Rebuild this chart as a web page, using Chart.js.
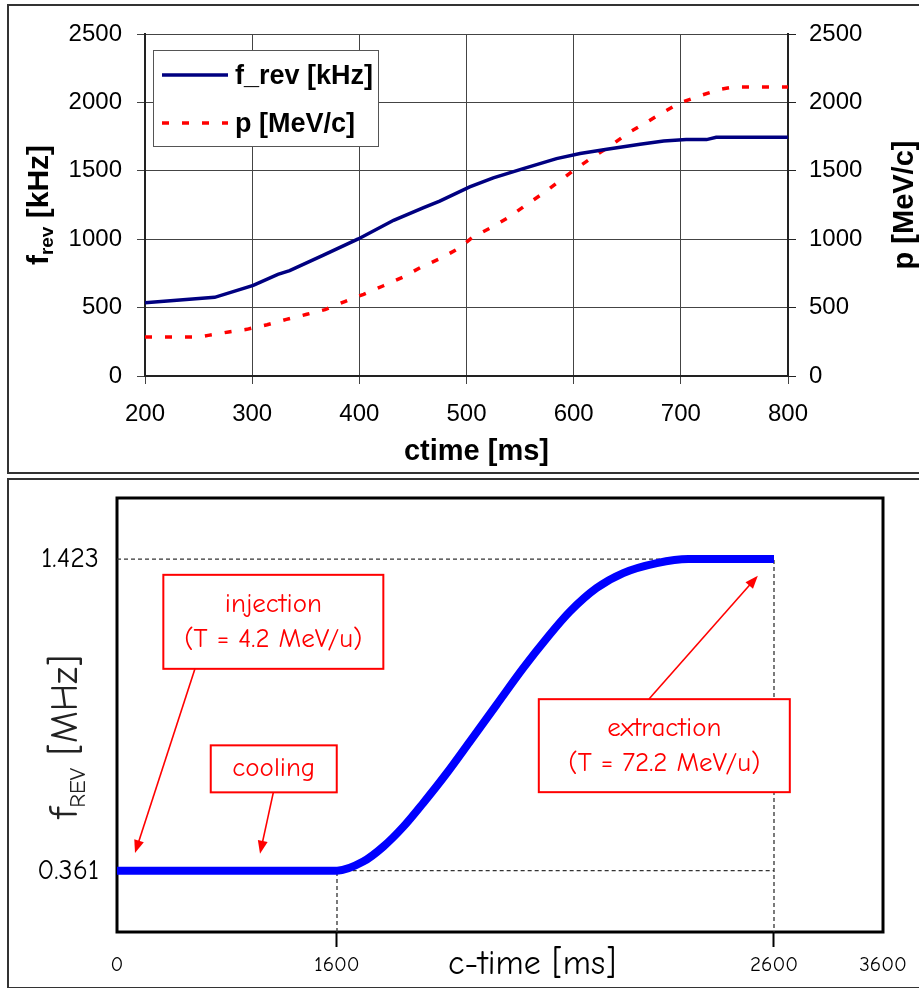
<!DOCTYPE html>
<html>
<head>
<meta charset="utf-8">
<script src="https://cdn.jsdelivr.net/npm/chart.js@4.4.1/dist/chart.umd.min.js"></script>
<style>
  html, body { margin: 0; padding: 0; background: #fff; overflow: hidden; width: 919px; height: 988px; }
  .panel { position: absolute; border: 2px solid #333; box-sizing: border-box; }
  canvas { position: absolute; left: 0; }
</style>
</head>
<body>
<div class="panel" style="left:7px;top:4px;width:930px;height:470px"></div>
<div class="panel" style="left:7px;top:478px;width:930px;height:511px"></div>
<canvas id="topChart" width="919" height="476" style="top:0"></canvas>
<canvas id="bottomChart" width="919" height="510" style="top:478px"></canvas>
<script>
// ---- top chart: measured ramp ----
const fRevTime = [200, 265, 301, 324, 335, 366, 399, 432, 460, 475, 503, 525, 553, 584, 606, 631, 662, 684, 705, 724, 733, 800];
const fRevKHz  = [535, 575, 663, 743, 770, 882, 1002, 1138, 1231, 1279, 1382, 1448, 1516, 1589, 1626, 1657, 1694, 1718, 1728, 1728, 1745, 1745];
const pTime = [200, 250, 259, 278, 295, 314, 332, 351, 368, 387, 404, 422, 441, 458, 477, 493, 506, 524, 539, 556, 572, 587, 601, 618, 635, 650, 667, 683, 699, 719, 737, 750, 800];
const pMeV  = [285, 285, 297, 322, 341, 375, 414, 451, 485, 546, 597, 658, 724, 797, 864, 935, 1016, 1089, 1158, 1253, 1338, 1426, 1509, 1601, 1686, 1772, 1850, 1925, 1996, 2052, 2096, 2113, 2113];

// ---- bottom chart: schematic cycle ----
const cTime   = [0, 1600, 1660, 1706, 1752, 1797, 1851, 1904, 1965, 2026, 2080, 2133, 2194, 2255, 2332, 2404, 2600];
const fRevMHz = [0.361, 0.361, 0.392, 0.443, 0.511, 0.591, 0.693, 0.801, 0.926, 1.051, 1.153, 1.244, 1.324, 1.375, 1.409, 1.423, 1.423];
const cTimeTicks = [0, 1600, 2600, 3600];
const fRevTicks = [0.361, 1.423];
const fMin = 0.152, fMax = 1.631;

const noteText = [
  ['injection', '(T = 4.2 MeV/u)'],
  ['cooling'],
  ['extraction', '(T = 72.2 MeV/u)']
];

const arial = '"Liberation Sans", Arial, sans-serif';
const comic = '"Comic Sans MS", "Comic Neue", Lato, sans-serif';

function pts(xs, ys) { return xs.map((x, i) => ({ x: x, y: ys[i] })); }

function drawRich(ctx, parts, cx, cy, rot) {
  ctx.save();
  ctx.translate(cx, cy);
  ctx.rotate(rot);
  let total = 0;
  parts.forEach(p => { ctx.font = p.font; p.w = ctx.measureText(p.text).width; total += p.w; });
  let x = -total / 2;
  ctx.textAlign = 'left';
  ctx.textBaseline = 'alphabetic';
  parts.forEach(p => { ctx.font = p.font; ctx.fillStyle = p.color || '#000'; ctx.fillText(p.text, x, p.dy); x += p.w; });
  ctx.restore();
}

// legend box + axis titles for the top chart
const topDecor = {
  id: 'topDecor',
  afterDraw(chart) {
    const { ctx, chartArea: a } = chart;
    ctx.save();
    const lx = a.left + 8, ly = a.top + 16;
    ctx.fillStyle = '#fff';
    ctx.fillRect(lx, ly, 225, 96);
    ctx.strokeStyle = '#555';
    ctx.lineWidth = 1;
    ctx.strokeRect(lx + 0.5, ly + 0.5, 225, 96);
    chart.data.datasets.forEach((ds, i) => {
      const y = ly + 25 + i * 48;
      ctx.beginPath();
      ctx.setLineDash(ds.borderDash || []);
      ctx.strokeStyle = ds.borderColor;
      ctx.lineWidth = ds.borderWidth;
      ctx.moveTo(lx + 9, y);
      ctx.lineTo(lx + 75, y);
      ctx.stroke();
      ctx.setLineDash([]);
      ctx.fillStyle = '#000';
      ctx.font = 'bold 27px ' + arial;
      ctx.textAlign = 'left';
      ctx.textBaseline = 'middle';
      ctx.fillText(ds.label, lx + 82, y + 2);
    });
    const midY = (a.top + a.bottom) / 2;
    drawRich(ctx, [
      { text: 'f', font: 'bold 30px ' + arial, dy: 10 },
      { text: 'rev', font: 'bold 19px ' + arial, dy: 15 },
      { text: ' [kHz]', font: 'bold 30px ' + arial, dy: 10 }
    ], 38, midY, -Math.PI / 2);
    drawRich(ctx, [
      { text: 'p [MeV/c]', font: 'bold 29px ' + arial, dy: 10 }
    ], 903, midY, -Math.PI / 2);
    drawRich(ctx, [
      { text: 'ctime [ms]', font: 'bold 29px ' + arial, dy: 10 }
    ], (a.left + a.right) / 2 + 10, a.bottom + 74, 0);
    ctx.restore();
  }
};

const plainNum = v => String(v);

new Chart(document.getElementById('topChart'), {
  type: 'line',
  data: {
    datasets: [
      { label: 'f_rev [kHz]', data: pts(fRevTime, fRevKHz), yAxisID: 'y',
        borderColor: '#000080', borderWidth: 3.5, pointRadius: 0 },
      { label: 'p [MeV/c]', data: pts(pTime, pMeV), yAxisID: 'y2',
        borderColor: '#ff0000', borderWidth: 3.5, borderDash: [7, 13], pointRadius: 0 }
    ]
  },
  options: {
    responsive: false,
    animation: false,
    devicePixelRatio: 1,
    layout: { padding: { top: 34, left: 0, right: 0, bottom: 0 } },
    plugins: { legend: { display: false }, tooltip: { enabled: false } },
    scales: {
      x: {
        type: 'linear', min: 200, max: 800,
        ticks: { stepSize: 100, color: '#000', font: { family: arial, size: 24 }, padding: 16, maxRotation: 0, callback: plainNum },
        grid: { color: '#444', lineWidth: 1, tickLength: 8 },
        border: { color: '#222', width: 2 },
        afterFit: s => { s.height = 100; }
      },
      y: {
        position: 'left', min: 0, max: 2500,
        ticks: { stepSize: 500, color: '#000', font: { family: arial, size: 24 }, padding: 15, callback: plainNum },
        grid: { color: '#444', lineWidth: 1, tickLength: 8 },
        border: { color: '#222', width: 2 },
        afterFit: s => { s.width = 145; s.paddingTop = 0; }
      },
      y2: {
        position: 'right', min: 0, max: 2500,
        ticks: { stepSize: 500, color: '#000', font: { family: arial, size: 24 }, padding: 13, callback: plainNum },
        grid: { drawOnChartArea: false, color: '#222', tickLength: 8 },
        border: { color: '#222', width: 2 },
        afterFit: s => { s.width = 131; s.paddingTop = 0; }
      }
    }
  },
  plugins: [topDecor]
});

// x axis of the schematic is piecewise linear between the marked times
const xBreakFrac = [0, 0.2872, 0.8577, 1];
class SegmentScale extends Chart.LinearScale {
  getPixelForValue(value) {
    const b = cTimeTicks;
    let dec = value <= b[0] ? 0 : 1;
    for (let i = 0; i < b.length - 1; i++) {
      if (value >= b[i] && value <= b[i + 1]) {
        dec = xBreakFrac[i] + (value - b[i]) / (b[i + 1] - b[i]) * (xBreakFrac[i + 1] - xBreakFrac[i]);
        break;
      }
    }
    return this.getPixelForDecimal(dec);
  }
  getValueForPixel(pixel) {
    const dec = this.getDecimalForPixel(pixel);
    const b = cTimeTicks;
    for (let i = 0; i < b.length - 1; i++) {
      if (dec <= xBreakFrac[i + 1]) {
        return b[i] + (dec - xBreakFrac[i]) / (xBreakFrac[i + 1] - xBreakFrac[i]) * (b[i + 1] - b[i]);
      }
    }
    return b[b.length - 1];
  }
}
SegmentScale.id = 'segment';
SegmentScale.defaults = Chart.LinearScale.defaults;
Chart.register(SegmentScale);

// annotation placement in data units (centre, box size in px, arrow tail -> tip)
const noteLayout = [
  { at: [1137, 1.209], w: 220, h: 94, tail: [567, 1.049], tip: [131, 0.421] },
  { at: [1140, 0.708], w: 126, h: 47, tail: [1137, 0.628], tip: [1040, 0.419] },
  { at: [2349, 0.787], w: 251, h: 93, tail: [2314, 0.946], tip: [2563, 1.366] }
];

const bottomDecor = {
  id: 'bottomDecor',
  beforeDatasetsDraw(chart) {
    const { ctx, chartArea: a } = chart;
    ctx.save();
    ctx.strokeStyle = '#000';
    ctx.lineWidth = 3;
    ctx.strokeRect(a.left, a.top, a.right - a.left, a.bottom - a.top);
    ctx.restore();
  },
  afterDatasetsDraw(chart) {
    const { ctx } = chart;
    const xs = chart.scales.x, ys = chart.scales.y;
    ctx.save();
    noteLayout.forEach((n, i) => {
      const cx = xs.getPixelForValue(n.at[0]), cy = ys.getPixelForValue(n.at[1]);
      // arrow
      const x0 = xs.getPixelForValue(n.tail[0]), y0 = ys.getPixelForValue(n.tail[1]);
      const x1 = xs.getPixelForValue(n.tip[0]), y1 = ys.getPixelForValue(n.tip[1]);
      const ang = Math.atan2(y1 - y0, x1 - x0);
      ctx.strokeStyle = '#ff0000';
      ctx.fillStyle = '#ff0000';
      ctx.lineWidth = 1.6;
      ctx.beginPath();
      ctx.moveTo(x0, y0);
      ctx.lineTo(x1 - 10 * Math.cos(ang), y1 - 10 * Math.sin(ang));
      ctx.stroke();
      ctx.beginPath();
      ctx.moveTo(x1, y1);
      ctx.lineTo(x1 - 13 * Math.cos(ang) + 5 * Math.sin(ang), y1 - 13 * Math.sin(ang) - 5 * Math.cos(ang));
      ctx.lineTo(x1 - 13 * Math.cos(ang) - 5 * Math.sin(ang), y1 - 13 * Math.sin(ang) + 5 * Math.cos(ang));
      ctx.closePath();
      ctx.fill();
      // box
      ctx.fillStyle = '#fff';
      ctx.fillRect(cx - n.w / 2, cy - n.h / 2, n.w, n.h);
      ctx.lineWidth = 2;
      ctx.strokeRect(cx - n.w / 2, cy - n.h / 2, n.w, n.h);
      ctx.fillStyle = '#ff0000';
      ctx.font = '27px ' + comic;
      ctx.textAlign = 'center';
      ctx.textBaseline = 'middle';
      const lines = noteText[i];
      lines.forEach((t, k) => {
        ctx.fillText(t, cx, cy + (k - (lines.length - 1) / 2) * 35);
      });
    });
    ctx.restore();
  },
  afterDraw(chart) {
    const { ctx, chartArea: a } = chart;
    const midY = (a.top + a.bottom) / 2;
    drawRich(ctx, [
      { text: 'f', font: '40px ' + comic, dy: 13, color: '#222' },
      { text: 'REV', font: '23px ' + comic, dy: 21, color: '#222' },
      { text: ' [MHz]', font: '38px ' + comic, dy: 13, color: '#222' }
    ], 64, midY + 22, -Math.PI / 2);
    drawRich(ctx, [
      { text: 'c-time [ms]', font: '34px ' + comic, dy: 12, color: '#000' }
    ], 532, a.bottom + 30, 0);
  }
};

new Chart(document.getElementById('bottomChart'), {
  type: 'line',
  data: {
    datasets: [
      { label: 'f_REV', data: pts(cTime, fRevMHz), borderColor: '#0000ff', borderWidth: 8,
        pointRadius: 0, cubicInterpolationMode: 'monotone' },
      { label: 'top guide', data: [{ x: 0, y: fRevTicks[1] }, { x: cTimeTicks[2], y: fRevTicks[1] }, { x: cTimeTicks[2], y: fMin }],
        borderColor: '#333', borderWidth: 1.3, borderDash: [4, 3], pointRadius: 0 },
      { label: 'bottom guide', data: [{ x: cTimeTicks[1], y: fMin }, { x: cTimeTicks[1], y: fRevTicks[0] }, { x: cTimeTicks[2], y: fRevTicks[0] }],
        borderColor: '#333', borderWidth: 1.3, borderDash: [4, 3], pointRadius: 0 }
    ]
  },
  options: {
    responsive: false,
    animation: false,
    devicePixelRatio: 1,
    layout: { padding: { top: 20, left: 0, right: 36, bottom: 0 } },
    plugins: { legend: { display: false }, tooltip: { enabled: false } },
    scales: {
      x: {
        type: 'segment', min: 0, max: 3600,
        afterBuildTicks: s => { s.ticks = cTimeTicks.map(v => ({ value: v })); },
        ticks: { color: '#000', font: { family: comic, size: 21 }, padding: 5, maxRotation: 0, autoSkip: false,
          callback: plainNum },
        grid: { drawOnChartArea: false, tickLength: 15, tickWidth: 2,
          tickColor: c => (c.tick && (c.tick.value === cTimeTicks[1] || c.tick.value === cTimeTicks[2])) ? '#000' : 'rgba(0,0,0,0)' },
        border: { display: false },
        afterFit: s => { s.height = 56; }
      },
      y: {
        min: fMin, max: fMax,
        afterBuildTicks: s => { s.ticks = fRevTicks.map(v => ({ value: v })); },
        ticks: { color: '#000', font: { family: comic, size: 28 }, padding: 18, autoSkip: false,
          callback: plainNum },
        grid: { drawOnChartArea: false, drawTicks: false },
        border: { display: false },
        afterFit: s => { s.width = 117; s.paddingTop = 0; s.paddingBottom = 0; }
      }
    }
  },
  plugins: [bottomDecor]
});
</script>
</body>
</html>
